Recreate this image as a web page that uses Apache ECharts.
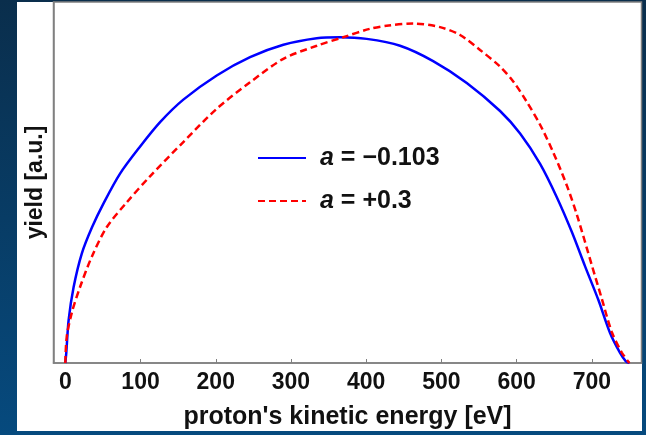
<!DOCTYPE html>
<html>
<head>
<meta charset="utf-8">
<script src="https://cdn.jsdelivr.net/npm/echarts@6/dist/echarts.min.js"></script>
<style>
    html, body {margin: 0; padding: 0; background: #0b3556;}
    #chart {width: 646px; height: 435px;}
</style>
</head>
<body>
<div id="chart"></div>
<script>
// energy [eV], yield normalised to the blue peak
var blueE = [0, 1.3, 4.4, 11, 22, 35.5, 51, 73, 99, 126, 156.9, 201.3, 245.6, 289.9, 334.3, 365.2, 400.7,
    445, 489, 533.7, 578, 604.6, 631.2, 653.4, 673.3, 691, 708.7, 724.2, 737.5, 745, 750];
var blueY = [0, 0.031, 0.131, 0.232, 0.336, 0.416, 0.490, 0.581, 0.662, 0.738, 0.807, 0.881, 0.937, 0.975, 0.995, 0.998, 0.993,
    0.972, 0.925, 0.858, 0.772, 0.703, 0.610, 0.508, 0.402, 0.296, 0.193, 0.092, 0.031, 0.006, 0];

var redE = [0, 1.9, 8.5, 19.5, 35.1, 55, 81.6, 112.6, 156.9, 201.3, 245.6, 289.9, 334.3, 369.6, 405.1, 430, 462.3,
    498.2, 524.8, 551.4, 578, 595.7, 613.5, 631.2, 648.9, 666.7, 680, 699.9, 713.2, 726.5, 739.8, 750];
var redY = [0, 0.080, 0.153, 0.232, 0.325, 0.416, 0.492, 0.572, 0.677, 0.779, 0.860, 0.932, 0.972, 0.998, 1.024, 1.034, 1.040,
    1.029, 1.005, 0.959, 0.908, 0.862, 0.800, 0.730, 0.644, 0.544, 0.455, 0.300, 0.197, 0.095, 0.032, 0];

var xTicks = [0, 100, 200, 300, 400, 500, 600, 700];
var names = ['a = \u22120.103', 'a = +0.3'];

function pairs(xs, ys) {
    var out = [];
    for (var i = 0; i < xs.length; i++) {
        out.push([xs[i], ys[i]]);
    }
    return out;
}

var font = '"Liberation Sans", Arial, sans-serif';
var myChart = echarts.init(document.getElementById('chart'));
var option = {
    backgroundColor: {
        type: 'linear', x: 0, y: 0, x2: 0, y2: 1,
        colorStops: [{offset: 0, color: '#0a2e4c'}, {offset: 1, color: '#064a7e'}]
    },
    animation: false,
    textStyle: {fontFamily: font},
    graphic: [{
        type: 'rect',
        z: -10,
        shape: {x: 17, y: 2, width: 625, height: 429},
        style: {fill: '#ffffff'}
    }],
    grid: {
        left: 53.5, right: 4.5, top: 2, bottom: 71,
        show: true, borderColor: '#808080', borderWidth: 1.5
    },
    legend: {
        orient: 'vertical',
        left: 257, top: 145.5,
        padding: 0,
        itemWidth: 48, itemHeight: 20, itemGap: 18,
        data: names,
        itemStyle: {opacity: 0},
        formatter: function (name) {
            return '{i|a}' + name.substring(1);
        },
        textStyle: {
            fontSize: 25, fontWeight: 'bold', color: '#111', fontFamily: font, padding: [0, 0, 0, 9],
            rich: {i: {fontSize: 25, fontWeight: 'bold', fontStyle: 'italic', color: '#111', fontFamily: font}}
        }
    },
    xAxis: {
        type: 'value',
        min: -15.7, max: 766,
        name: "proton's kinetic energy [eV]",
        nameLocation: 'middle',
        nameGap: 42,
        nameTextStyle: {fontSize: 25, fontWeight: 'bold', color: '#111', fontFamily: font},
        splitLine: {show: false},
        axisLine: {show: true, onZero: false, lineStyle: {color: '#808080', width: 1.5}},
        axisTick: {show: true, inside: true, length: 4, customValues: xTicks, lineStyle: {color: '#808080'}},
        axisLabel: {customValues: xTicks, margin: 8, fontSize: 23, fontWeight: 'bold', color: '#111', fontFamily: font}
    },
    yAxis: {
        type: 'value',
        min: 0, max: 1.106,
        name: 'yield [a.u.]',
        nameLocation: 'middle',
        nameGap: 6,
        nameTextStyle: {fontSize: 23, fontWeight: 'bold', color: '#111', fontFamily: font},
        splitLine: {show: false},
        axisLine: {show: true, onZero: false, lineStyle: {color: '#808080', width: 1.5}},
        axisTick: {show: false},
        axisLabel: {show: false}
    },
    series: [
        {
            name: names[0],
            type: 'line',
            data: pairs(blueE, blueY),
            smooth: 0.3,
            showSymbol: false,
            symbol: 'none',
            color: '#0000ff',
            lineStyle: {color: '#0000ff', width: 2.5}
        },
        {
            name: names[1],
            type: 'line',
            data: pairs(redE, redY),
            smooth: 0.3,
            showSymbol: false,
            symbol: 'none',
            color: '#ff0000',
            lineStyle: {color: '#ff0000', width: 2.5, type: [7, 4]}
        }
    ]
};
myChart.setOption(option);
</script>
</body>
</html>
